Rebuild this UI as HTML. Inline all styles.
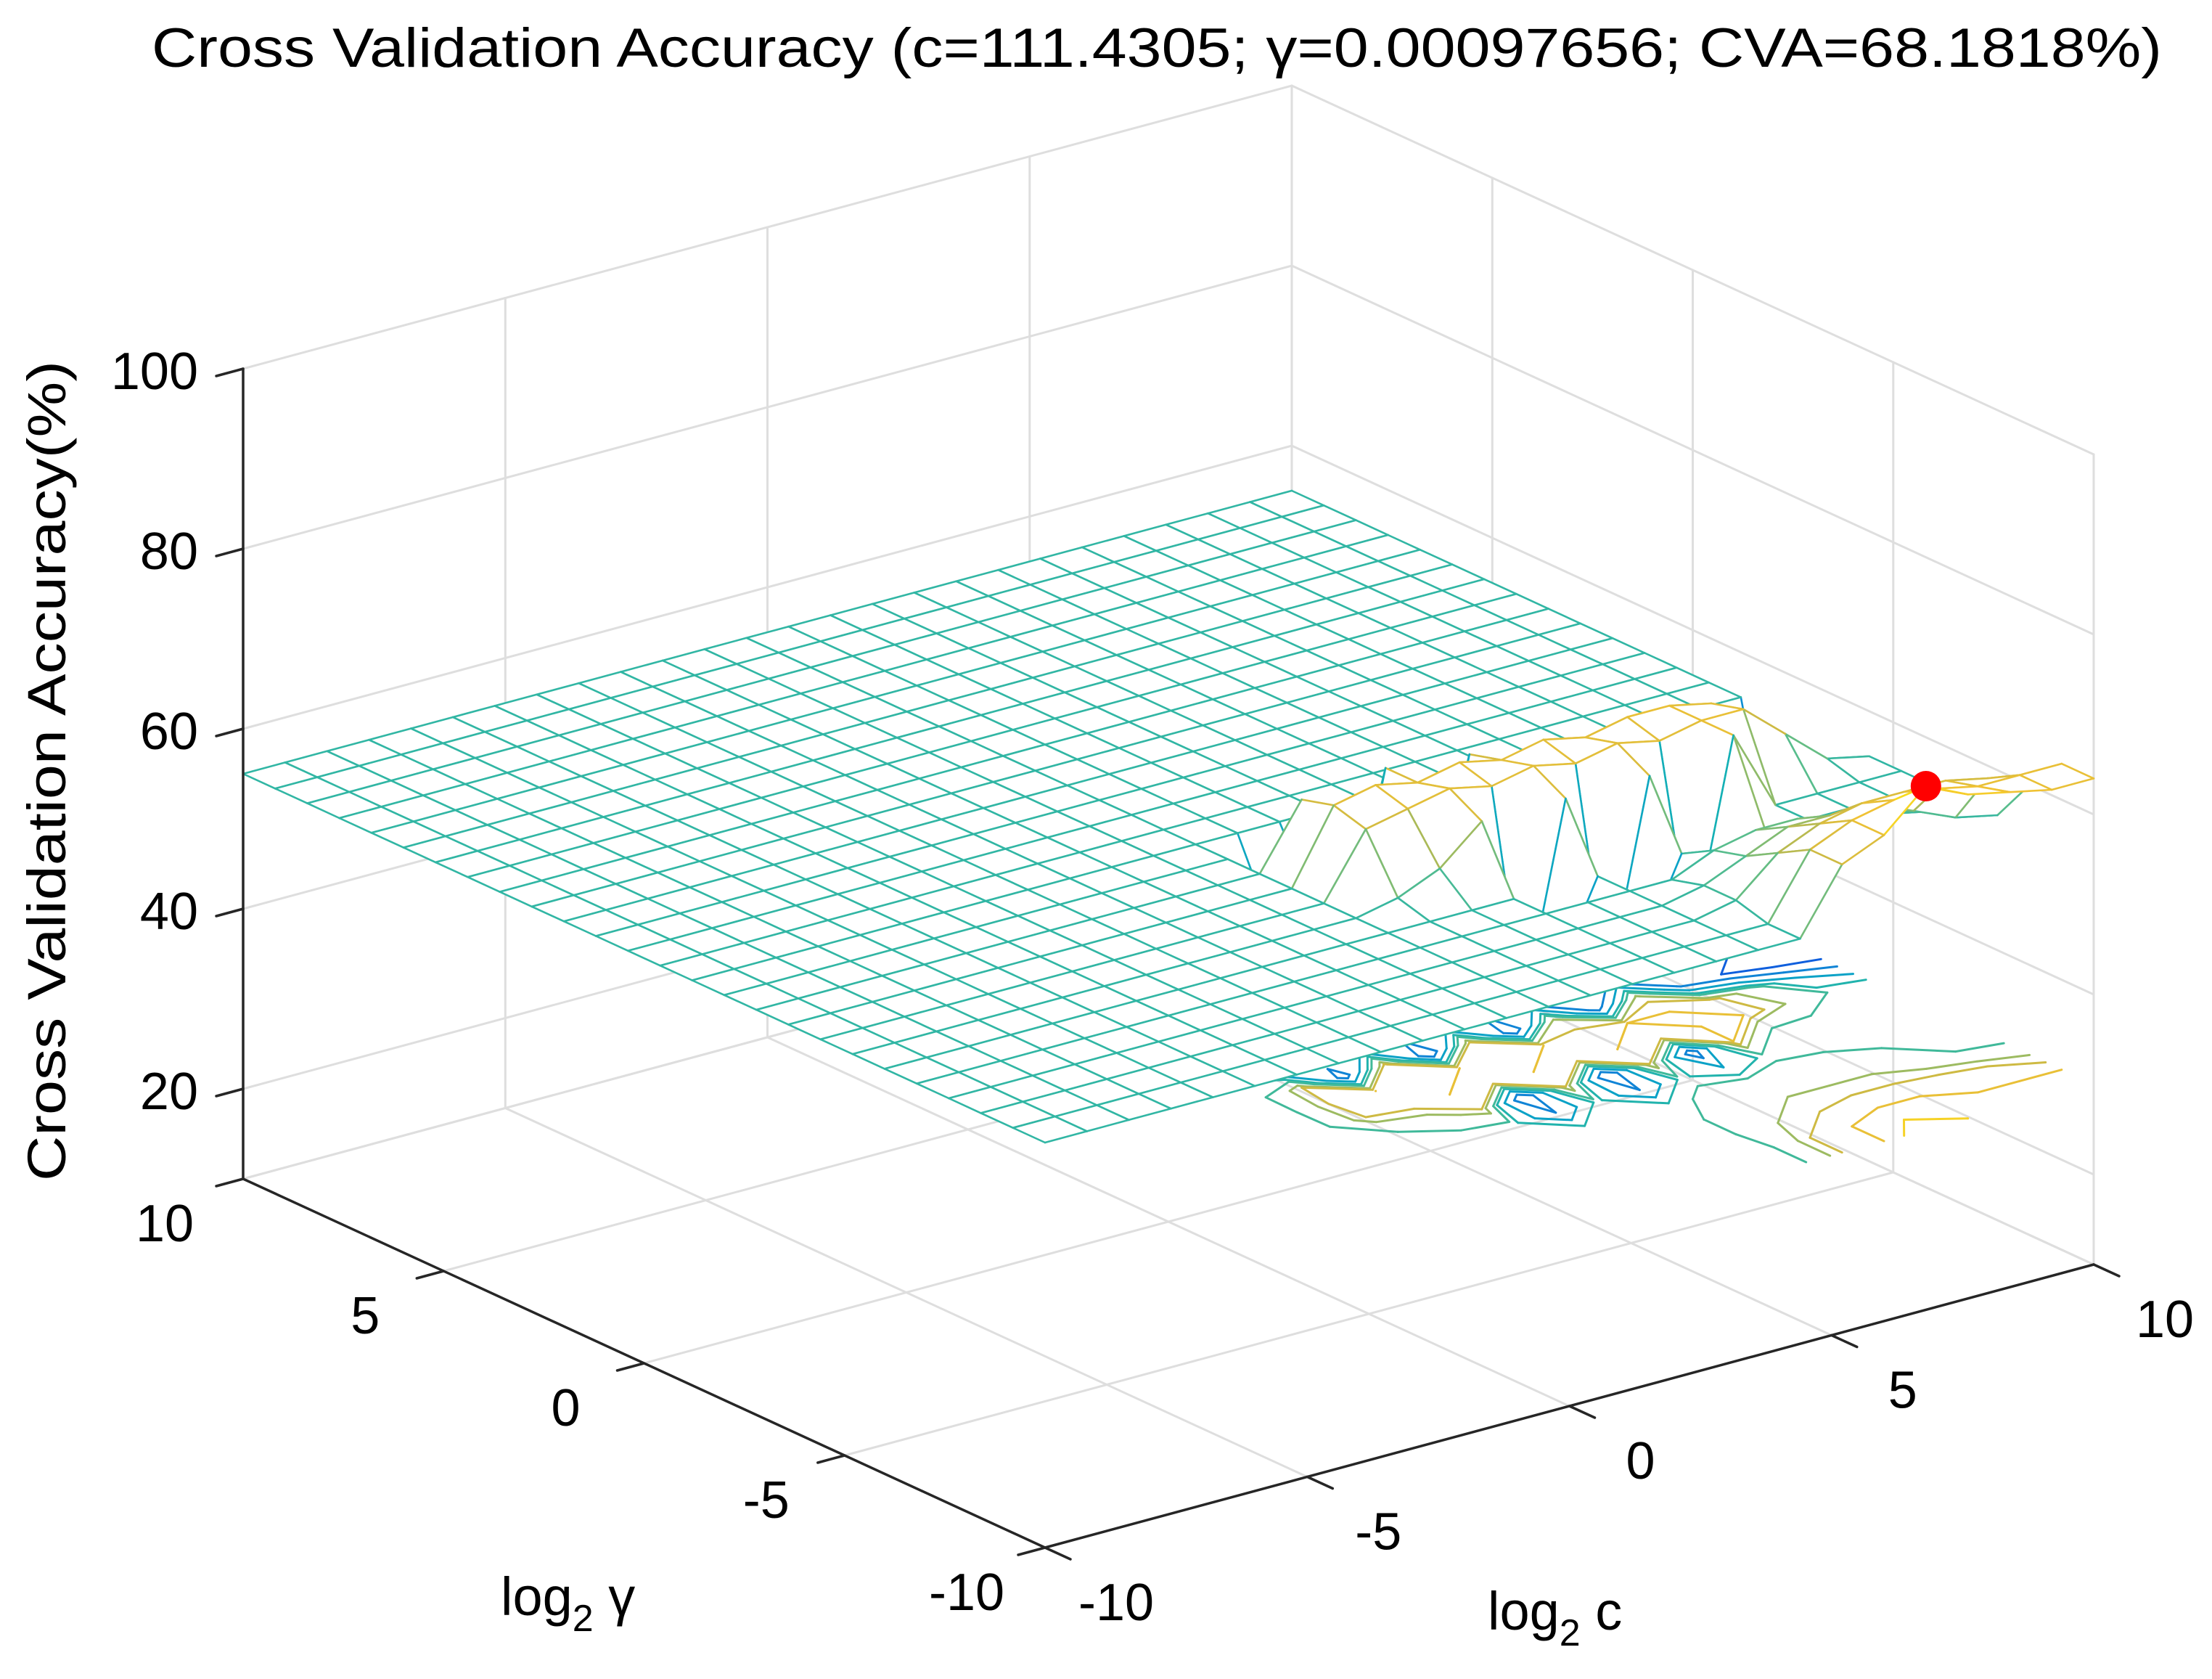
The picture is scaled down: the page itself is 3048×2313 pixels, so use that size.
<!DOCTYPE html>
<html><head><meta charset="utf-8"><style>
html,body{margin:0;padding:0;background:#fff;}
svg{display:block;font-family:"Liberation Sans",Arial,sans-serif;}
</style></head><body>
<svg id="chart" xmlns="http://www.w3.org/2000/svg" width="3048" height="2313" viewBox="0 0 3048 2313">
<rect x="0" y="0" width="3048" height="2313" fill="#fff"/>
<g id="walls"></g>
<g id="contours"></g>
<g id="mesh"></g>
<g id="axes"></g>
<text x="1594" y="92" font-size="76" text-anchor="middle" textLength="2770" lengthAdjust="spacingAndGlyphs">Cross Validation Accuracy (c=111.4305; γ=0.00097656; CVA=68.1818%)</text>
<text transform="translate(90,1062) rotate(-90)" font-size="74" text-anchor="middle" textLength="1130" lengthAdjust="spacingAndGlyphs">Cross Validation Accuracy(%)</text>
<text x="690" y="2225" font-size="74">log<tspan font-size="52" dy="22">2</tspan><tspan dy="-22"> γ</tspan></text>
<text x="2050" y="2245" font-size="74">log<tspan font-size="52" dy="22">2</tspan><tspan dy="-22"> c</tspan></text>
</svg>
<script>
const cGrid = [-10,-9.2,-8.4,-7.6,-6.8,-6,-5.2,-4.4,-3.6,-2.8,-2,-1.2,-0.4,0.4,1.2,2,2.8,3.6,4.4,5.2,6,6.8,7.6,8.4,9.2,10];
const gGrid = [-10,-9.2,-8.4,-7.6,-6.8,-6,-5.2,-4.4,-3.6,-2.8,-2,-1.2,-0.4,0.4,1.2,2,2.8,3.6,4.4,5.2,6,6.8,7.6,8.4,9.2,10];
// accuracy rows indexed by gamma (row 0 = gamma -10), columns by c
const acc = [
[55,55,55,55,55,55,55,55,55,55,55,55,55,55,55,55,55,55,55,62,64,68.18,66,65,64,64],
[55,55,55,55,55,55,55,55,55,55,55,55,55,55,55,55,55,55,55,62,64,65,65,64,64,64],
[55,55,55,55,55,55,55,55,55,55,55,55,55,55,55,55,55,55,56,60,62,63,63,63,62,60],
[55,55,55,55,55,55,55,55,55,55,55,55,55,55,55,55,55,55,56,58,60,60,60,58,56,55],
[55,55,55,55,55,55,55,55,55,55,55,55,55,55,55,55,55,55,55,57,58,58,57,56,55,55],
[55,55,55,55,55,55,55,55,55,55,55,55,55,55,55,55,45,55,45,55,50,55,55,55,55,55],
[55,55,55,55,55,55,55,55,55,55,55,55,55,56,58,62,40,62,40,62,42,64,55,55,55,55],
[55,55,55,55,55,55,55,55,55,55,55,55,55,62,63,64,63,64,63,64,63,64,64,60,56,55],
[55,55,55,55,55,55,55,55,55,55,55,55,55,63,64,63,64,63,64,63,64,64,63,58,50,45],
[55,55,55,55,55,55,55,55,55,55,55,55,55,62,42,63,40,62,41,60,42,61,44,40,36,35],
[55,55,55,55,55,55,55,55,55,55,55,55,55,47,48,47,46,46,45,45,44,44,43,42,40,38],
[55,55,55,55,55,55,55,55,55,55,55,55,55,55,55,55,55,55,55,55,55,55,55,55,55,55],
[55,55,55,55,55,55,55,55,55,55,55,55,55,55,55,55,55,55,55,55,55,55,55,55,55,55],
[55,55,55,55,55,55,55,55,55,55,55,55,55,55,55,55,55,55,55,55,55,55,55,55,55,55],
[55,55,55,55,55,55,55,55,55,55,55,55,55,55,55,55,55,55,55,55,55,55,55,55,55,55],
[55,55,55,55,55,55,55,55,55,55,55,55,55,55,55,55,55,55,55,55,55,55,55,55,55,55],
[55,55,55,55,55,55,55,55,55,55,55,55,55,55,55,55,55,55,55,55,55,55,55,55,55,55],
[55,55,55,55,55,55,55,55,55,55,55,55,55,55,55,55,55,55,55,55,55,55,55,55,55,55],
[55,55,55,55,55,55,55,55,55,55,55,55,55,55,55,55,55,55,55,55,55,55,55,55,55,55],
[55,55,55,55,55,55,55,55,55,55,55,55,55,55,55,55,55,55,55,55,55,55,55,55,55,55],
[55,55,55,55,55,55,55,55,55,55,55,55,55,55,55,55,55,55,55,55,55,55,55,55,55,55],
[55,55,55,55,55,55,55,55,55,55,55,55,55,55,55,55,55,55,55,55,55,55,55,55,55,55],
[55,55,55,55,55,55,55,55,55,55,55,55,55,55,55,55,55,55,55,55,55,55,55,55,55,55],
[55,55,55,55,55,55,55,55,55,55,55,55,55,55,55,55,55,55,55,55,55,55,55,55,55,55],
[55,55,55,55,55,55,55,55,55,55,55,55,55,55,55,55,55,55,55,55,55,55,55,55,55,55],
[55,55,55,55,55,55,55,55,55,55,55,55,55,55,55,55,55,55,55,55,55,55,55,55,55,55]
];
const contourLevels = [40,45,50,54,56,60,62,64,66];
const cTicks = [-10,-5,0,5,10];
const gTicks = [-10,-5,0,5,10];
const zTicks = [20,40,60,80,100];
const zGridLines = [10,20,40,60,80,100];
const bestPoint = [6.8,-10,68.18];
const contourPlane = 30;

const NS='http://www.w3.org/2000/svg';
function proj(c,g,z){const u=(c+10)/20,v=(g+10)/20;return [1440+1445*u-1105*v, 2132-390*u-508*v-(z-10)*12.4];}
function depth(c,g){const u=(c+10)/20,v=(g+10)/20;return 2132-390*u-508*v;}
const stops=[[0,53,42,135],[0.14,15,92,221],[0.27,18,125,216],[0.41,7,156,207],[0.55,21,177,180],[0.68,89,189,140],[0.8,200,185,70],[0.9,245,195,50],[1,249,240,14]];
let zmin=Infinity,zmax=-Infinity;acc.forEach(r=>r.forEach(v=>{zmin=Math.min(zmin,v);zmax=Math.max(zmax,v);}));
function cmap(z){let t=(z-zmin)/(zmax-zmin);t=Math.max(0,Math.min(1,t));for(let k=1;k<stops.length;k++){if(t<=stops[k][0]){const a=stops[k-1],b=stops[k],f=(t-a[0])/(b[0]-a[0]);return `rgb(${Math.round(a[1]+(b[1]-a[1])*f)},${Math.round(a[2]+(b[2]-a[2])*f)},${Math.round(a[3]+(b[3]-a[3])*f)})`;}}return 'rgb(249,240,14)';}
function line(parent,p,q,stroke,w,name){const l=document.createElementNS(NS,'line');l.setAttribute('x1',p[0].toFixed(1));l.setAttribute('y1',p[1].toFixed(1));l.setAttribute('x2',q[0].toFixed(1));l.setAttribute('y2',q[1].toFixed(1));l.setAttribute('stroke',stroke);l.setAttribute('stroke-width',w);l.setAttribute('stroke-linecap','round');


parent.appendChild(l);return l;}
function text(parent,x,y,s,anchor,name){const t=document.createElementNS(NS,'text');t.setAttribute('x',x);t.setAttribute('y',y);t.setAttribute('font-size','72');t.setAttribute('text-anchor',anchor);t.textContent=s;


parent.appendChild(t);}

const W=document.getElementById('walls');const gc='#dedede';
cTicks.forEach(c=>{line(W,proj(c,-10,10),proj(c,10,10),gc,3,'floor-grid-c');line(W,proj(c,10,10),proj(c,10,100),gc,3,'back-wall-grid-c');});
gTicks.forEach(g=>{line(W,proj(-10,g,10),proj(10,g,10),gc,3,'floor-grid-gamma');line(W,proj(10,g,10),proj(10,g,100),gc,3,'side-wall-grid-gamma');});
zGridLines.forEach(z=>{line(W,proj(-10,10,z),proj(10,10,z),gc,3,'back-wall-grid-z');line(W,proj(10,10,z),proj(10,-10,z),gc,3,'side-wall-grid-z');});

const C=document.getElementById('contours');
contourLevels.forEach(L=>{const col=cmap(L);
for(let j=0;j<gGrid.length-1;j++)for(let i=0;i<cGrid.length-1;i++){
const pts=[[i,j],[i+1,j],[i+1,j+1],[i,j+1]];const segs=[];
for(let e=0;e<4;e++){const a=pts[e],b=pts[(e+1)%4];const za=acc[a[1]][a[0]],zb=acc[b[1]][b[0]];
if((za<L&&zb>=L)||(za>=L&&zb<L)){const f=(L-za)/(zb-za);segs.push([cGrid[a[0]]+(cGrid[b[0]]-cGrid[a[0]])*f,gGrid[a[1]]+(gGrid[b[1]]-gGrid[a[1]])*f]);}}
for(let s=0;s+1<segs.length;s+=2){line(C,proj(segs[s][0],segs[s][1],contourPlane),proj(segs[s+1][0],segs[s+1][1],contourPlane),col,3,'contour-line');}
}});

const M=document.getElementById('mesh');const quads=[];
for(let j=0;j<gGrid.length-1;j++)for(let i=0;i<cGrid.length-1;i++){quads.push({i,j,d:depth((cGrid[i]+cGrid[i+1])/2,(gGrid[j]+gGrid[j+1])/2)});}
quads.sort((a,b)=>a.d-b.d);
quads.forEach(q=>{const i=q.i,j=q.j;const vs=[[i,j],[i+1,j],[i+1,j+1],[i,j+1]];
const P=vs.map(v=>proj(cGrid[v[0]],gGrid[v[1]],acc[v[1]][v[0]]));
const poly=document.createElementNS(NS,'polygon');poly.setAttribute('points',P.map(p=>p[0].toFixed(1)+','+p[1].toFixed(1)).join(' '));poly.setAttribute('fill','#fff');


M.appendChild(poly);
for(let e=0;e<4;e++){const a=vs[e],b=vs[(e+1)%4];const z=(acc[a[1]][a[0]]+acc[b[1]][b[0]])/2;line(M,P[e],P[(e+1)%4],cmap(z),2.6,'mesh-edge');}
});

const bp=proj(bestPoint[0],bestPoint[1],bestPoint[2]);const dot=document.createElementNS(NS,'circle');dot.setAttribute('cx',bp[0]);dot.setAttribute('cy',bp[1]);dot.setAttribute('r',21);dot.setAttribute('fill','#ff0000');


M.appendChild(dot);

const A=document.getElementById('axes');const k='#262626';
line(A,proj(-10,10,10),proj(-10,10,100),k,3.5,'z-axis-line');
line(A,proj(-10,10,10),proj(-10,-10,10),k,3.5,'gamma-axis-line');
line(A,proj(-10,-10,10),proj(10,-10,10),k,3.5,'c-axis-line');
zTicks.forEach(z=>{const p=proj(-10,10,z);line(A,p,[p[0]-37,p[1]+10],k,3.5,'z-tick');text(A,p[0]-62,p[1]+28,String(z),'end','z-tick-label');});
gTicks.forEach(g=>{const p=proj(-10,g,10);line(A,p,[p[0]-37,p[1]+10],k,3.5,'gamma-tick');text(A,p[0]-108,p[1]+86,String(g),'middle','gamma-tick-label');});
cTicks.forEach(c=>{const p=proj(c,-10,10);line(A,p,[p[0]+35,p[1]+16],k,3.5,'c-tick');text(A,p[0]+98,p[1]+100,String(c),'middle','c-tick-label');});
</script>
</body></html>
